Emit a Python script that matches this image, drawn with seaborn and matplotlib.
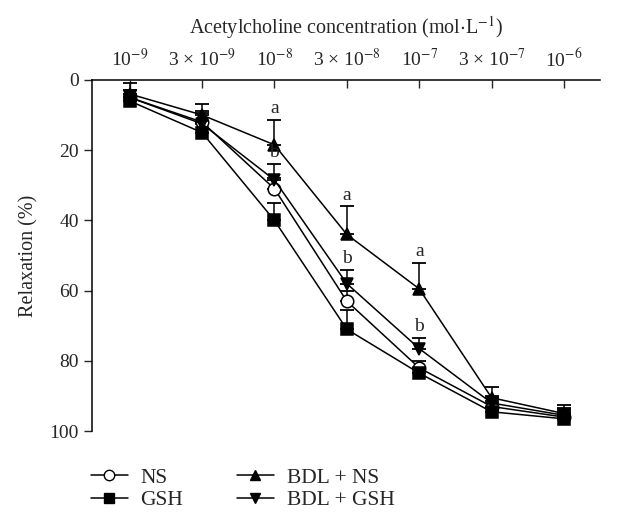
import numpy as np
import pandas as pd
import seaborn as sns
import matplotlib.pyplot as plt
from matplotlib.lines import Line2D

# dados
conc = ['10$^{-9}$', '3 × 10$^{-9}$', '10$^{-8}$', '3 × 10$^{-8}$',
        '10$^{-7}$', '3 × 10$^{-7}$', '10$^{-6}$']
ns = [5, 12, 31, 63, 82, 93, 96]
gsh = [6, 15, 40, 71, 83.5, 94.5, 96.5]
bdl_ns = [4, 10, 18.5, 44, 59.5, 90.5, 95]
bdl_gsh = [5, 12.5, 28.5, 58, 76.5, 92, 95.5]

err_ns = [2, 3, 3, 3, 2, 1.5, 2]
err_gsh = [2, 3, 5, 5.5, 1.5, 1.5, 2]
err_bdl_ns = [3, 3, 7, 8, 7.5, 3, 2.5]
err_bdl_gsh = [2, 3, 4.5, 4, 3, 2, 2]

# letras de significancia (indices das concentracoes)
sig_a = [2, 3, 4]
sig_b = [2, 3, 4]

sns.set_style('ticks')
plt.rcParams['font.family'] = ['Liberation Serif', 'DejaVu Serif']
plt.rcParams['mathtext.fontset'] = 'stix'

fig = plt.figure(figsize=(6.19, 5.12), dpi=100)
ax = fig.add_axes([0.1486, 0.158, 0.821, 0.686])

x = np.arange(len(conc))
series = [
    ('NS', ns, err_ns, 'o', 'white'),
    ('GSH', gsh, err_gsh, 's', 'black'),
    ('BDL + NS', bdl_ns, err_bdl_ns, '^', 'black'),
    ('BDL + GSH', bdl_gsh, err_bdl_gsh, 'v', 'black'),
]

for nome, y, e, m, fc in series:
    ax.errorbar(x, y, yerr=[e, np.zeros(len(e))], fmt='none', ecolor='black',
                elinewidth=1.1, capsize=5, capthick=1.3, zorder=2)
    df = pd.DataFrame({'x': x, 'y': y})
    sns.lineplot(data=df, x='x', y='y', ax=ax, color='black', lw=1.1,
                 marker=m, markersize=9, markerfacecolor=fc,
                 markeredgecolor='black', markeredgewidth=1.1, zorder=3)

for i in sig_a:
    ax.text(x[i], bdl_ns[i] - err_bdl_ns[i] - 0.8, 'a', ha='center', va='bottom', fontsize=14)
for i in sig_b:
    ax.text(x[i], bdl_gsh[i] - err_bdl_gsh[i] - 0.8, 'b', ha='center', va='bottom', fontsize=14)

ax.set_xlim(-0.52, 6.5)
ax.set_ylim(100, 0)
ax.set_yticks([0, 20, 40, 60, 80, 100])
ax.set_xticks(x)
ax.set_xticklabels(conc)
ax.xaxis.tick_top()
ax.xaxis.set_label_position('top')
ax.set_xlabel('Acetylcholine concentration (mol$\\cdot$L$^{-1}$)', fontsize=14.5, labelpad=10)
ax.set_ylabel('Relaxation (%)', fontsize=14.5, labelpad=8)
ax.tick_params(axis='x', direction='in', length=6, width=1, labelsize=14, pad=7)
ax.tick_params(axis='y', direction='out', length=6, width=1, labelsize=14)
for s in ['bottom', 'right']:
    ax.spines[s].set_visible(False)
for s in ['top', 'left']:
    ax.spines[s].set_linewidth(1.1)
    ax.spines[s].set_color('black')

handles = [Line2D([], [], color='black', lw=1.1, marker=m, markersize=7.5,
                  markerfacecolor=fc, markeredgecolor='black')
           for _, _, _, m, fc in series]
labels = [s[0] for s in series]
fig.legend(handles, labels, ncol=2, loc='lower left', bbox_to_anchor=(0.126, -0.022),
           frameon=False, fontsize=15.5, handlelength=1.7, handletextpad=0.6,
           columnspacing=2.5, labelspacing=0.12, borderpad=0.1)

plt.savefig('out.png', dpi=100)
